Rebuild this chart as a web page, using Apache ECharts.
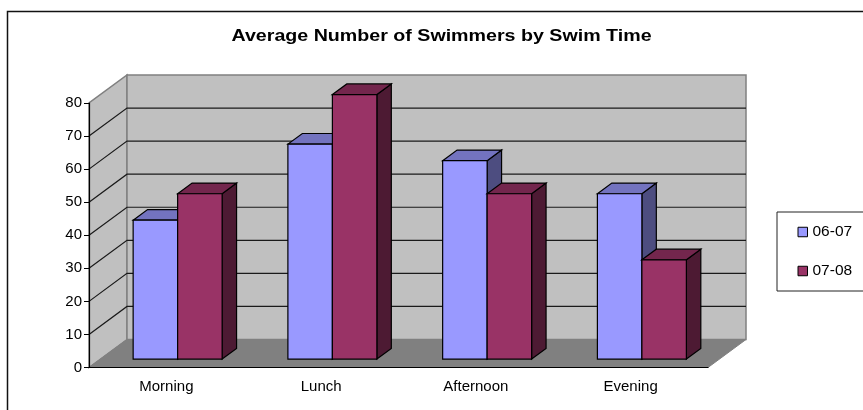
<!DOCTYPE html>
<html>
<head>
<meta charset="utf-8">
<style>html,body{margin:0;padding:0;background:#fff;overflow:hidden}#chart{width:863px;height:410px}</style>
<script src="https://cdn.jsdelivr.net/npm/echarts@6/dist/echarts.min.js"></script>
</head>
<body>
<div id="chart"></div>
<script>
// Swim-time attendance, two seasons
const categories = ['Morning', 'Lunch', 'Afternoon', 'Evening'];
const season0607 = [42, 65, 60, 50];
const season0708 = [50, 80, 50, 30];
const yTicks = [0, 10, 20, 30, 40, 50, 60, 70, 80];
const chartTitle = 'Average Number of Swimmers by Swim Time';

// Oblique projection of the 3D box, in pixels
const DEPTH_X = 38, DEPTH_Y = -28;
const BAR_INSET = 0.27, BAR_DEPTH = 0.38;
const BAR_WIDTH_SHARE = 0.2875;
const BAR_SHIFT_X = 1, BAR_SHIFT_Y = -0.9;

const FONT = '"Liberation Sans", Arial, sans-serif';

function poly(points, fill, stroke, lineWidth) {
  return { type: 'polygon', shape: { points }, style: { fill, stroke: stroke || null, lineWidth: lineWidth || 0 } };
}

function renderWalls(params, api) {
  const cs = params.coordSys;
  const left = cs.x, right = cs.x + cs.width;
  const bottom = api.coord([0, 0])[1], top = api.coord([0, yTicks[yTicks.length - 1]])[1];
  const children = [
    poly([[left, bottom], [left + DEPTH_X, bottom + DEPTH_Y], [left + DEPTH_X, top + DEPTH_Y], [left, top]], '#c0c0c0', '#808080', 1.5),
    poly([[left + DEPTH_X, top + DEPTH_Y], [right + DEPTH_X, top + DEPTH_Y], [right + DEPTH_X, bottom + DEPTH_Y], [left + DEPTH_X, bottom + DEPTH_Y]], '#c0c0c0', '#808080', 1.5),
    poly([[left, bottom], [right, bottom], [right + DEPTH_X, bottom + DEPTH_Y], [left + DEPTH_X, bottom + DEPTH_Y]], '#808080', '#808080', 1)
  ];
  yTicks.forEach(function (t) {
    if (t === 0 || t === yTicks[yTicks.length - 1]) return;
    const y = api.coord([0, t])[1];
    children.push({
      type: 'polyline',
      shape: { points: [[left, y], [left + DEPTH_X, y + DEPTH_Y], [right + DEPTH_X, y + DEPTH_Y]] },
      style: { fill: null, stroke: '#1a1a1a', lineWidth: 1.2 }
    });
  });
  return { type: 'group', children };
}

function barRenderer(seriesIndex, front, top, side) {
  return function (params, api) {
    const band = api.size([1, 0])[0];
    const w = band * BAR_WIDTH_SHARE;
    const base = api.coord([api.value(0), 0]);
    const head = api.coord([api.value(0), api.value(1)]);
    const ox = DEPTH_X * BAR_INSET + BAR_SHIFT_X, oy = DEPTH_Y * BAR_INSET + BAR_SHIFT_Y;
    const dx = DEPTH_X * BAR_DEPTH, dy = DEPTH_Y * BAR_DEPTH;
    const x0 = base[0] - w + seriesIndex * w + ox, x1 = x0 + w;
    const y0 = base[1] + oy, y1 = head[1] + oy;
    const edge = '#000';
    return {
      type: 'group',
      children: [
        poly([[x1, y0], [x1 + dx, y0 + dy], [x1 + dx, y1 + dy], [x1, y1]], side, edge, 1.2),
        poly([[x0, y1], [x0 + dx, y1 + dy], [x1 + dx, y1 + dy], [x1, y1]], top, edge, 1.2),
        poly([[x0, y0], [x1, y0], [x1, y1], [x0, y1]], front, edge, 1.2)
      ]
    };
  };
}

const chart = echarts.init(document.getElementById('chart'), null, { renderer: 'canvas' });
chart.setOption({
  animation: false,
  backgroundColor: '#fff',
  graphic: [
    // Chart-area frame runs off the right and bottom of the page
    { type: 'rect', z: -1, silent: true, shape: { x: 7.5, y: 11.5, width: 900, height: 500 }, style: { fill: '#fff', stroke: '#111', lineWidth: 1.5 } },
    { type: 'text', z: 10, silent: true, x: 441.5, y: 36.5, scaleX: 1.19,
      style: { text: chartTitle, fontFamily: FONT, fontSize: 16.5, fontWeight: 'bold', fill: '#000', align: 'center', verticalAlign: 'middle' } }
  ],
  legend: {
    left: 777, top: 212,
    orient: 'vertical',
    padding: [12, 30, 12, 20.5],
    itemGap: 23,
    itemWidth: 9.5, itemHeight: 9.5,
    borderColor: '#222', borderWidth: 1, backgroundColor: '#fff',
    textStyle: { fontFamily: FONT, fontSize: 15.5, color: '#000' },
    data: [
      { name: '06-07', icon: 'rect', itemStyle: { color: '#9999ff', borderColor: '#000', borderWidth: 1 } },
      { name: '07-08', icon: 'rect', itemStyle: { color: '#993366', borderColor: '#000', borderWidth: 1 } }
    ]
  },
  grid: { left: 89, right: 155, top: 103, bottom: 42.5, containLabel: false },
  xAxis: {
    type: 'category', data: categories, boundaryGap: true, z: 5,
    axisLine: { lineStyle: { color: '#000', width: 1.2 } },
    axisTick: { alignWithLabel: false, length: 5, lineStyle: { color: '#000' } },
    axisLabel: { fontFamily: FONT, fontSize: 15, color: '#000', margin: 12 },
    splitLine: { show: false }
  },
  yAxis: {
    type: 'value', min: 0, max: 80, interval: 10, z: 5,
    axisLine: { show: true, lineStyle: { color: '#000', width: 1.2 } },
    axisTick: { show: true, length: 5, lineStyle: { color: '#000' } },
    axisLabel: { fontFamily: FONT, fontSize: 15, color: '#000', margin: 7, padding: [2, 0, 0, 0], formatter: function (v) { return yTicks.indexOf(v) >= 0 ? String(v) : ''; } },
    splitLine: { show: false }
  },
  series: [
    { type: 'custom', silent: true, z: 1, renderItem: renderWalls, data: [[0, 0]], encode: { x: 0, y: 1 } },
    { type: 'custom', name: '06-07', z: 2, itemStyle: { color: '#9999ff' }, renderItem: barRenderer(0, '#9999ff', '#7373bf', '#4d4d80'),
      data: season0607.map(function (v, i) { return [i, v]; }), encode: { x: 0, y: 1 } },
    { type: 'custom', name: '07-08', z: 3, itemStyle: { color: '#993366' }, renderItem: barRenderer(1, '#993366', '#73264d', '#4d1a33'),
      data: season0708.map(function (v, i) { return [i, v]; }), encode: { x: 0, y: 1 } }
  ]
});
</script>
</body>
</html>
